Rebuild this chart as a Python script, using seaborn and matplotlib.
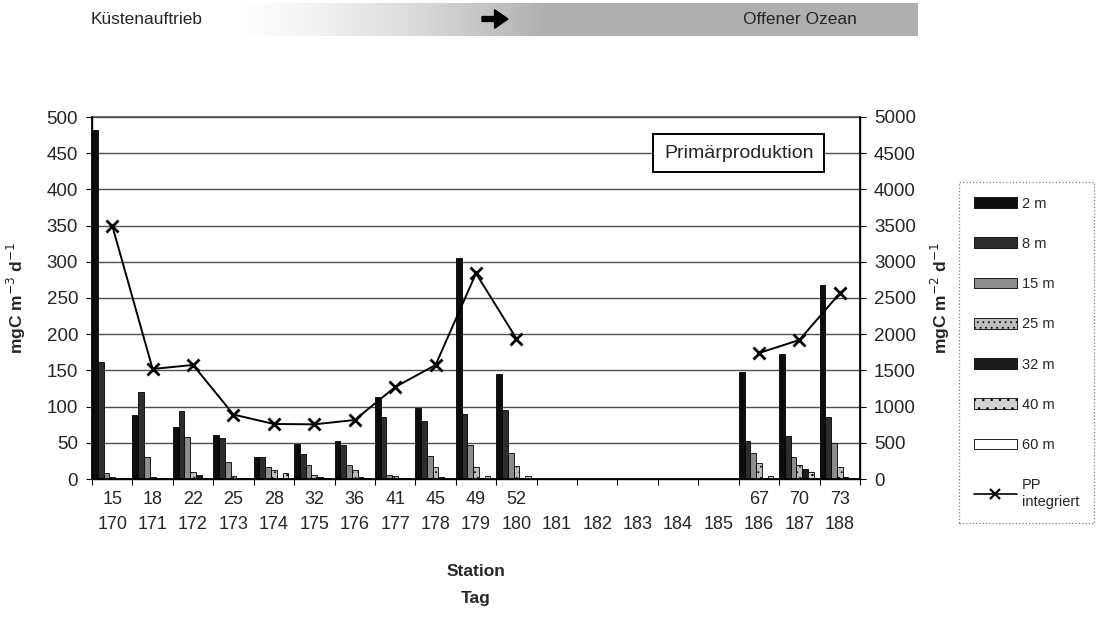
import numpy as np
import pandas as pd
import matplotlib
matplotlib.use("Agg")
import matplotlib.pyplot as plt
from matplotlib.patches import Patch, FancyArrow
from matplotlib.lines import Line2D
import seaborn as sns

# ---- data -------------------------------------------------------------
days = [170, 171, 172, 173, 174, 175, 176, 177, 178, 179,
        180, 181, 182, 183, 184, 185, 186, 187, 188]
stations = ["15", "18", "22", "25", "28", "32", "36", "41", "45", "49",
            "52", "", "", "", "", "", "67", "70", "73"]
depths = ["2 m", "8 m", "15 m", "25 m", "32 m", "40 m", "60 m"]

sampled_days = [170, 171, 172, 173, 174, 175, 176, 177, 178, 179, 180, 186, 187, 188]
pp_2m = [482, 88, 72, 61, 31, 48, 53, 113, 98, 305, 145, 148, 173, 268]
pp_8m = [162, 120, 94, 57, 30, 35, 47, 85, 80, 90, 95, 52, 59, 86]
pp_15m = [8, 31, 58, 24, 17, 20, 20, 5, 32, 47, 36, 36, 31, 50]
pp_25m = [3, 3, 9, 4, 13, 6, 12, 4, 16, 17, 18, 22, 19, 16]
pp_32m = [1, 1, 5, 1, 1, 3, 3, 2, 3, 2, 1, 1, 14, 3]
pp_40m = [1, 1, 1, 1, 8, 1, 1, 1, 1, 4, 4, 4, 10, 1]
pp_60m = [0.5, 0.5, 0.5, 0.5, 0.5, 0.5, 0.5, 0.5, 0.5, 0.5, 0.5, 0.5, 0.5, 0.5]
pp_integrated = [3500, 1520, 1575, 890, 760, 755, 815, 1270, 1575, 2840,
                 1940, 1740, 1920, 2565]

series = [pp_2m, pp_8m, pp_15m, pp_25m, pp_32m, pp_40m, pp_60m]

# ---- styling ----------------------------------------------------------
sns.set_theme(style="white")
plt.rcParams["font.family"] = ["Liberation Sans", "DejaVu Sans"]
plt.rcParams["hatch.linewidth"] = 0.5

fills = ["#0d0d0d", "#2e2e2e", "#8c8c8c", "#bdbdbd", "#1c1c1c", "#d4d4d4", "#ffffff"]
hatches = ["", "", "", "...", "", "..", ""]

rows = []
for depth, vals in zip(depths, series):
    for d, v in zip(sampled_days, vals):
        rows.append({"Tag": str(d), "Tiefe": depth, "PP": v})
df = pd.DataFrame(rows)

fig = plt.figure(figsize=(11.18, 6.17), dpi=100)
ax = fig.add_axes([92 / 1118, 1 - 479 / 617, 768 / 1118, 362 / 617])

sns.barplot(data=df, x="Tag", y="PP", hue="Tiefe",
            order=[str(d) for d in days], hue_order=depths,
            palette=fills, width=1.0, gap=0, dodge=True,
            edgecolor="black", linewidth=0.6, errorbar=None,
            legend=False, ax=ax)
for cont, h in zip(ax.containers, hatches):
    for bar in cont:
        bar.set_hatch(h)

ax.set_ylim(0, 500)
ax.set_yticks(np.arange(0, 501, 50))
ax.set_xlim(-0.5, len(days) - 0.5)
ax.yaxis.grid(True, color="#505050", linewidth=1.0)
ax.set_axisbelow(True)

# category labels: station above day
ax.set_xticks(range(len(days)))
ax.set_xticklabels([f"{s}\n{d}" for s, d in zip(stations, days)],
                   fontsize=13, linespacing=1.6)
ax.set_xticks(np.arange(-0.5, len(days), 1.0), minor=True)
ax.tick_params(axis="x", which="major", length=0, pad=9)
ax.tick_params(axis="x", which="minor", length=4, width=0.8, color="black",
               bottom=True, direction="out")
ax.tick_params(axis="y", length=4, width=0.8, color="black", left=True,
               direction="out", labelsize=13.5, pad=6)
ax.set_xlabel("")
ax.set_ylabel("mgC m$^{-3}$ d$^{-1}$", fontsize=12.5, fontweight="bold")
ax.yaxis.set_label_coords(-0.083, 0.5)

for side in ["left", "bottom", "right"]:
    ax.spines[side].set_color("black")
    ax.spines[side].set_linewidth(1.0)
ax.spines["top"].set_color("#505050")

# integrated production on secondary axis
ax2 = ax.twinx()
pp_line = np.full(len(days), np.nan)
for d, v in zip(sampled_days, pp_integrated):
    pp_line[days.index(d)] = v
ax2.plot(np.arange(len(days)), pp_line, color="black", linewidth=1.4,
         marker="x", markersize=8, markeredgewidth=2.0)
ax2.set_ylim(0, 5000)
ax2.set_yticks(np.arange(0, 5001, 500))
ax2.tick_params(axis="y", length=4, width=0.8, color="black", right=True,
                direction="out", labelsize=13.5, pad=6)
ax2.set_ylabel("mgC m$^{-2}$ d$^{-1}$", fontsize=12.5, fontweight="bold")
ax2.yaxis.set_label_coords(1.09, 0.5)
ax2.grid(False)
for side in ["left", "right", "bottom"]:
    ax2.spines[side].set_color("black")
ax2.spines["top"].set_visible(False)

ax.text(0.842, 0.90, "Primärproduktion", transform=ax.transAxes,
        ha="center", va="center", fontsize=14, zorder=10,
        bbox=dict(boxstyle="square,pad=0.55", facecolor="white",
                  edgecolor="black", linewidth=1.4))

fig.text(476 / 1118, 1 - 572 / 617, "Station", ha="center", va="center",
         fontsize=12.5, fontweight="bold")
fig.text(476 / 1118, 1 - 598 / 617, "Tag", ha="center", va="center",
         fontsize=12.5, fontweight="bold")

# legend
handles = [Patch(facecolor=c, edgecolor="black", hatch=h, linewidth=0.6, label=l)
           for c, h, l in zip(fills, hatches, depths)]
handles.append(Line2D([], [], color="black", marker="x", markersize=7,
                      markeredgewidth=1.6, linewidth=1.2, label="PP\nintegriert"))
leg = fig.legend(handles=handles, loc="upper left",
                 bbox_to_anchor=(959 / 1118, 1 - 182 / 617),
                 fontsize=10.5, frameon=True, handlelength=3.0,
                 handleheight=0.75, labelspacing=1.8, handletextpad=0.3,
                 borderpad=1.0, borderaxespad=0.0, fancybox=False)
leg.get_frame().set_edgecolor("#606060")
leg.get_frame().set_linewidth(0.9)
leg.get_frame().set_linestyle(":")

# header band: coastal upwelling -> open ocean
band = fig.add_axes([235 / 1118, 1 - 36 / 617, (918 - 235) / 1118, 33 / 617])
ramp = np.clip(np.linspace(0, 1, 400) / 0.45, 0, 1) * 0.42
band.imshow(ramp[np.newaxis, :], aspect="auto", cmap="Greys", vmin=0, vmax=1)
band.set_axis_off()
fig.text(91 / 1118, 1 - 19 / 617, "Küstenauftrieb", ha="left", va="center",
         fontsize=12.5)
fig.text(800 / 1118, 1 - 19 / 617, "Offener Ozean", ha="center", va="center",
         fontsize=12.5)
fig.patches.append(FancyArrow(
    482 / 1118, 1 - 19 / 617, 26 / 1118, 0, width=0.008, head_width=0.03,
    head_length=0.012, length_includes_head=True, color="black",
    transform=fig.transFigure, figure=fig))

fig.savefig("out.png", dpi=100)
